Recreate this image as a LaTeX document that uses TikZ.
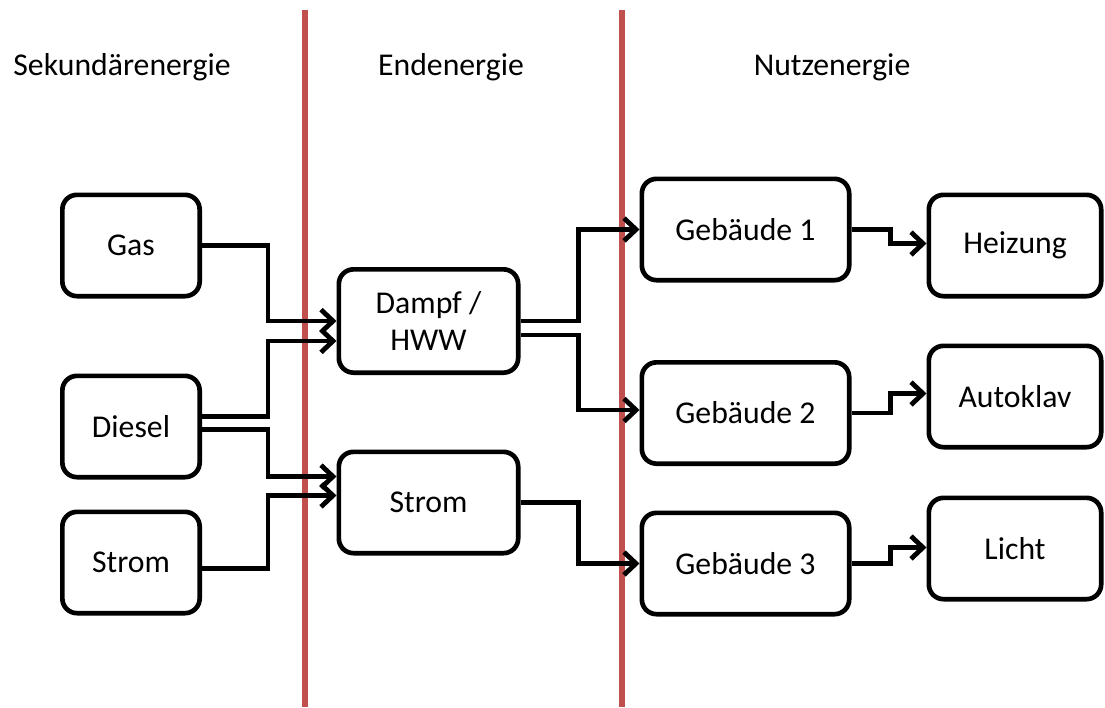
\documentclass[tikz,border=0pt]{standalone}
\usepackage{fontspec}
\setmainfont{Carlito}
\usetikzlibrary{arrows.meta,calc}

\definecolor{divred}{RGB}{192,80,77}

\tikzset{every picture/.style={line width=0.75pt}}
\tikzset{
  box/.style={draw, line width=3.5pt, rounded corners=11pt, fill=white, align=center,
    inner sep=0pt, font=\fontsize{23.8}{27.75}\selectfont},
  leftbox/.style={box, minimum width=103pt, minimum height=76pt},
  midbox/.style={box, minimum width=134.5pt, minimum height=77.5pt},
  usebox/.style={box, minimum width=155.5pt, minimum height=76pt},
  endbox/.style={box, minimum width=129.25pt, minimum height=76pt},
  link/.style={line width=3.6pt, -{Straight Barb[length=9pt,width=17pt]}},
  divider/.style={draw=divred, line width=4.5pt},
  heading/.style={font=\fontsize{23.8}{27.75}\selectfont}
}

\begin{document}
\begin{tikzpicture}[x=0.75pt,y=0.75pt,yscale=-1,xscale=1]
\useasboundingbox (0,0) rectangle (1105,707);

%Dividers
\draw [divider] (305,10) -- (305,707);
\draw [divider] (622,10) -- (622,707);

% Text Node
\node (hsek) at (122,67) [heading] {Sekundärenergie};
% Text Node
\node (hend) at (451,67) [heading] {Endenergie};
% Text Node
\node (hnutz) at (832,67) [heading] {Nutzenergie};

%Rounded Rect
\node (gas) at (131,245.5) [leftbox] {Gas};
\node (diesel) at (131,426.5) [leftbox] {Diesel};
\node (stromA) at (131,562.5) [leftbox] {Strom};
%Rounded Rect
\node (dampf) at (428.5,321) [midbox] {Dampf /\\HWW};
\node (stromB) at (428.5,502.5) [midbox, minimum height=76pt] {Strom};
%Rounded Rect
\node (geb1) at (745.5,229.5) [usebox] {Gebäude 1};
\node (geb2) at (745.5,413) [usebox] {Gebäude 2};
\node (geb3) at (745.5,563.5) [usebox] {Gebäude 3};
%Rounded Rect
\node (heiz) at (1015,245.5) [endbox] {Heizung};
\node (auto) at (1015,396.5) [endbox] {Autoklav};
\node (licht) at (1015,548.5) [endbox] {Licht};

%Connectors
\draw [link] (gas.east) -- ++(66,0) |- (dampf.west);
\draw [link] ($(diesel.east)+(0,-10)$) -- ++(66,0) |- ($(dampf.west)+(0,20)$);
\draw [link] ($(diesel.east)+(0,3)$) -- ++(66,0) |- ($(stromB.west)+(0,-26)$);
\draw [link] ($(stromA.east)+(0,6)$) -- ++(66,0) |- ($(stromB.west)+(0,-7)$);
\draw [link] (dampf.east) -- ++(58,0) |- (geb1.west);
\draw [link] ($(dampf.east)+(0,14)$) -- ++(58,0) |- ($(geb2.west)+(0,-3)$);
\draw [link] (stromB.east) -- ++(58,0) |- (geb3.west);
\draw [link] (geb1.east) -- ++(39,0) |- ($(heiz.west)+(0,-2)$);
\draw [link] (geb2.east) -- ++(39,0) |- ($(auto.west)+(0,-3)$);
\draw [link] (geb3.east) -- ++(39,0) |- ($(licht.west)+(0,-1)$);

\end{tikzpicture}
\end{document}
